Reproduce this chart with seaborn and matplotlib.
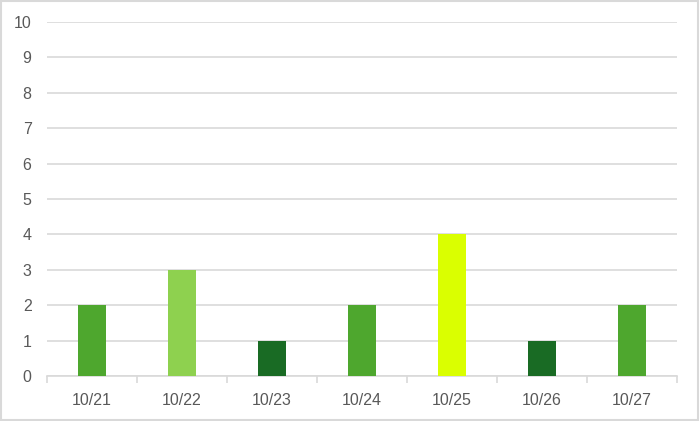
import matplotlib
matplotlib.use('Agg')
import matplotlib.pyplot as plt
import seaborn as sns
from matplotlib.patches import Rectangle

# data
dates = ['10/21', '10/22', '10/23', '10/24', '10/25', '10/26', '10/27']
counts = [2, 3, 1, 2, 4, 1, 2]
bar_colors = ['#4EA72E', '#8ED14F', '#196B24', '#4EA72E', '#DAFF00', '#196B24', '#4EA72E']

sns.set_theme(style='white')
plt.rcParams['font.family'] = ['Liberation Sans', 'DejaVu Sans']

fig = plt.figure(figsize=(7, 4.21), dpi=100)
ax = fig.add_axes([0.067, 0.107, 0.9, 0.841])

sns.barplot(x=dates, y=counts, hue=dates, palette=bar_colors, legend=False,
            width=0.31, saturation=1, linewidth=0, ax=ax, zorder=3)

ax.set_ylim(0, 10)
ax.set_yticks(range(0, 11))
ax.set_xlim(-0.5, len(dates) - 0.5)
ax.yaxis.grid(True, color='#D9D9D9', linewidth=1.2, zorder=0)
ax.set_axisbelow(True)

for s in ['top', 'right', 'left']:
    ax.spines[s].set_visible(False)
ax.spines['bottom'].set_color('#D9D9D9')
ax.spines['bottom'].set_linewidth(1.2)

# ticks sit between categories
ax.set_xticks([i - 0.5 for i in range(len(dates) + 1)], minor=False)
ax.set_xticklabels([])
ax.set_xticks(range(len(dates)), minor=True)
ax.set_xticklabels(dates, minor=True)
ax.tick_params(axis='x', which='major', length=5, color='#D9D9D9', width=1.2, bottom=True)
ax.tick_params(axis='x', which='minor', length=0, pad=12, labelsize=11.5, labelcolor='#595959')
ax.tick_params(axis='y', length=0, pad=11, labelsize=11.5, labelcolor='#595959')
ax.set_xlabel('')
ax.set_ylabel('')

fig.patches.append(Rectangle((0.002, 0.003), 0.995, 0.994, transform=fig.transFigure,
                             fill=False, edgecolor='#D9D9D9', linewidth=1.5))

fig.savefig('out.png', dpi=100)
